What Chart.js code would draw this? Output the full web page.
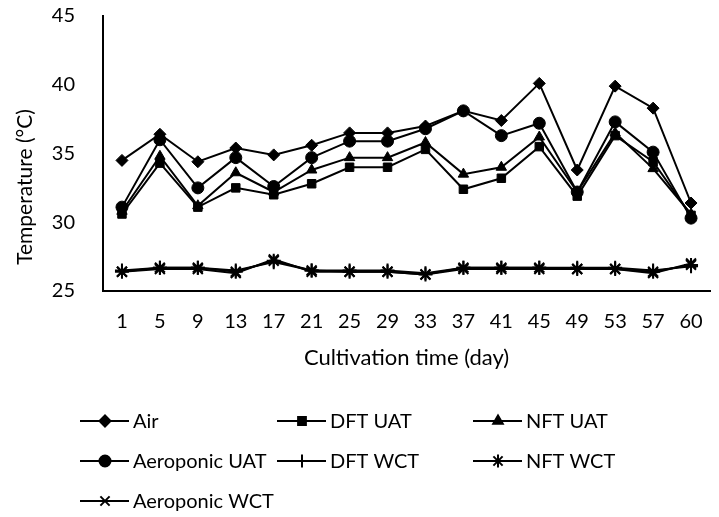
<!DOCTYPE html>
<html>
<head>
<meta charset="utf-8">
<script src="https://cdn.jsdelivr.net/npm/chart.js@4"></script>
<style>
  html, body { margin: 0; padding: 0; background: #fff; }
  #wrap { width: 719px; height: 517px; }
</style>
</head>
<body>
<div id="wrap"><canvas id="tempChart" width="719" height="517"></canvas></div>
<script>
// data
var days = ['1', '5', '9', '13', '17', '21', '25', '29', '33', '37', '41', '45', '49', '53', '57', '60'];
var air = [34.5, 36.4, 34.4, 35.4, 34.9, 35.6, 36.5, 36.5, 37.0, 38.1, 37.4, 40.1, 33.8, 39.9, 38.3, 31.4];
var dftUat = [30.6, 34.3, 31.1, 32.5, 32.0, 32.8, 34.0, 34.0, 35.3, 32.4, 33.2, 35.5, 31.9, 36.3, 34.4, 30.5];
var nftUat = [30.8, 34.8, 31.2, 33.6, 32.2, 33.8, 34.7, 34.7, 35.8, 33.5, 34.0, 36.2, 32.2, 36.5, 33.9, 30.6];
var aeroUat = [31.1, 36.0, 32.5, 34.7, 32.6, 34.7, 35.9, 35.9, 36.8, 38.1, 36.3, 37.2, 32.2, 37.3, 35.1, 30.3];
var dftWct = [26.5, 26.7, 26.7, 26.5, 27.1, 26.5, 26.5, 26.5, 26.3, 26.7, 26.7, 26.7, 26.7, 26.7, 26.5, 26.8];
var nftWct = [26.4, 26.7, 26.7, 26.4, 27.2, 26.5, 26.4, 26.4, 26.2, 26.7, 26.7, 26.7, 26.6, 26.6, 26.4, 26.9];
var aeroWct = [26.4, 26.6, 26.6, 26.3, 27.3, 26.4, 26.4, 26.4, 26.2, 26.6, 26.6, 26.6, 26.6, 26.6, 26.3, 27.0];
var yTicks = [25, 30, 35, 40, 45];

var FONT = 'Lato, "Liberation Sans", sans-serif';

function series(label, data, style, radius) {
    return {
        label: label,
        data: data,
        borderColor: '#000',
        backgroundColor: '#000',
        borderWidth: 2,
        pointStyle: style,
        pointRadius: radius,
        pointBorderWidth: (style == 'cross' || style == 'crossRot' || style == 'star') ? 2 : 1,
        pointBorderColor: '#000',
        pointBackgroundColor: '#000',
        tension: 0
    };
}

var datasets = [
    series('Air', air, 'rectRot', 6),
    series('DFT UAT', dftUat, 'rect', 6),
    series('NFT UAT', nftUat, 'triangle', 6),
    series('Aeroponic UAT', aeroUat, 'circle', 6),
    series('DFT WCT', dftWct, 'cross', 7),
    series('NFT WCT', nftWct, 'star', 7),
    series('Aeroponic WCT', aeroWct, 'crossRot', 7)
];

// legend in three columns + axis titles, drawn after the chart
var legendAndTitles = {
    id: 'legendAndTitles',
    afterDraw: function(chart) {
        var ctx = chart.ctx;
        var cols = [80, 277, 473];
        var rows = [421, 461, 501];
        ctx.save();
        chart.data.datasets.forEach(function(ds, i) {
            var x = cols[i % 3];
            var y = rows[Math.floor(i / 3)];
            ctx.strokeStyle = '#000';
            ctx.lineWidth = 2;
            ctx.beginPath();
            ctx.moveTo(x, y);
            ctx.lineTo(x + 49, y);
            ctx.stroke();
            ctx.fillStyle = '#000';
            Chart.helpers.drawPoint(ctx, {
                pointStyle: ds.pointStyle,
                radius: ds.pointRadius - 0.5,
                borderWidth: ds.pointBorderWidth,
                rotation: 0
            }, x + 25, y);
            ctx.font = '20px ' + FONT;
            ctx.textAlign = 'left';
            ctx.textBaseline = 'middle';
            ctx.fillText(ds.label, x + 53, y + 1);
        });

        // axis titles
        ctx.fillStyle = '#000';
        ctx.font = '22px ' + FONT;
        ctx.textAlign = 'center';
        ctx.textBaseline = 'middle';
        ctx.fillText('Cultivation time (day)', (chart.chartArea.left + chart.chartArea.right) / 2, 358);
        ctx.font = '21px ' + FONT;
        ctx.translate(25, 187);
        ctx.rotate(-Math.PI / 2);
        ctx.fillText('Temperature (\u00B0C)', 0, 0);
        ctx.restore();
    }
};

var tempChart = new Chart(document.getElementById('tempChart'), {
    type: 'line',
    data: {
        labels: days,
        datasets: datasets
    },
    options: {
        responsive: false,
        animation: false,
        layout: {
            padding: { left: 0, right: 0, top: 16, bottom: 166 }
        },
        plugins: {
            legend: { display: false },
            tooltip: { enabled: false }
        },
        scales: {
            x: {
                offset: true,
                grid: { display: false },
                border: { color: '#000', width: 2 },
                ticks: {
                    color: '#000',
                    font: { family: FONT, size: 20 },
                    padding: 11,
                    maxRotation: 0,
                    autoSkip: false
                },
                afterFit: function(scale) {
                    scale.height = 60;
                    scale.paddingLeft = 0;
                    scale.paddingRight = 0;
                }
            },
            y: {
                min: 25,
                max: 45,
                grid: { display: false },
                border: { color: '#000', width: 2 },
                afterBuildTicks: function(scale) {
                    scale.ticks = yTicks.map(function(v) { return { value: v }; });
                },
                ticks: {
                    color: '#000',
                    font: { family: FONT, size: 20 },
                    padding: 20
                },
                afterFit: function(scale) {
                    scale.width = 103;
                    scale.paddingTop = 0;
                    scale.paddingBottom = 0;
                }
            }
        }
    },
    plugins: [legendAndTitles]
});
</script>
</body>
</html>
